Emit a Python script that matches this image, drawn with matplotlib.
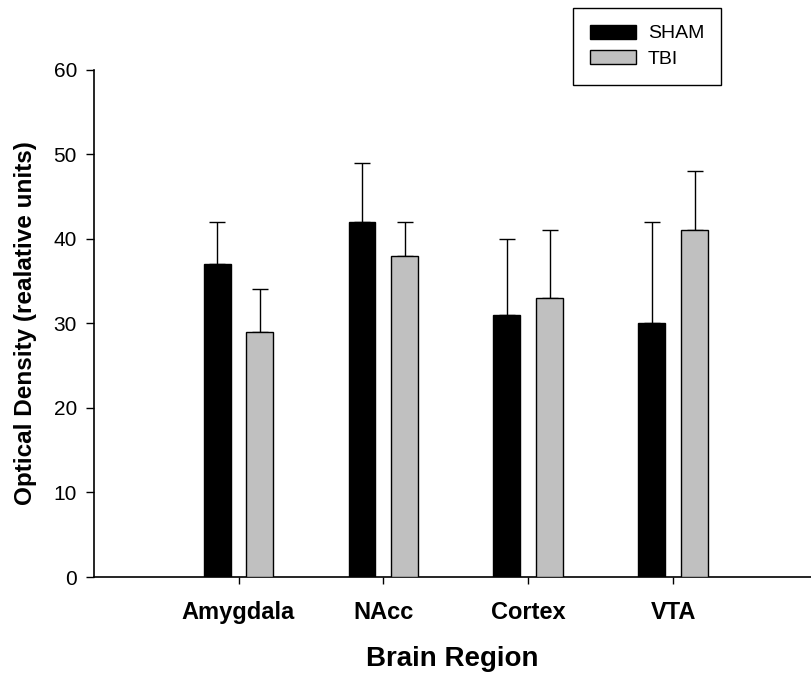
import matplotlib
matplotlib.use("Agg")
import matplotlib.pyplot as plt
import numpy as np
from matplotlib.patches import Patch

plt.rcParams['font.family'] = ['Liberation Sans', 'DejaVu Sans']

regions = ["Amygdala", "NAcc", "Cortex", "VTA"]
sham_mean = [37, 42, 31, 30]
sham_err = [5, 7, 9, 12]
tbi_mean = [29, 38, 33, 41]
tbi_err = [5, 4, 8, 7]
y_ticks = [0, 10, 20, 30, 40, 50, 60]

fig = plt.figure(figsize=(8.11, 6.74), dpi=100)
ax = fig.add_axes([0.1154, 0.1439, 0.8846, 0.7528])

x = np.arange(len(regions))
w = 0.186
off = 0.148
gray = "#c0c0c0"

ax.bar(x - off, sham_mean, width=w, color="black", edgecolor="black", linewidth=1, zorder=3)
ax.bar(x + off, tbi_mean, width=w, color=gray, edgecolor="black", linewidth=1, zorder=3)
ax.errorbar(x - off, sham_mean, yerr=[np.zeros(len(x)), sham_err], fmt="none",
            ecolor="black", elinewidth=1, capsize=5.8, capthick=1, zorder=2)
ax.errorbar(x + off, tbi_mean, yerr=[np.zeros(len(x)), tbi_err], fmt="none",
            ecolor="black", elinewidth=1, capsize=5.8, capthick=1, zorder=2)

ax.set_xlim(-1, 3.95)
ax.set_ylim(0, 60)
ax.set_yticks(y_ticks)
ax.set_xticks(x)
ax.set_xticklabels(regions, fontsize=17, fontweight="bold")
ax.tick_params(axis="y", labelsize=15, length=6, width=1, direction="out", pad=6)
ax.tick_params(axis="x", length=5, width=1, direction="out", pad=12)

for s in ["top", "right"]:
    ax.spines[s].set_visible(False)
for s in ["left", "bottom"]:
    ax.spines[s].set_linewidth(1.2)

ax.set_xlabel("Brain Region", fontsize=20, fontweight="bold", labelpad=16)
ax.set_ylabel("Optical Density (realative units)", fontsize=17.5, fontweight="bold", labelpad=12)

handles = [Patch(facecolor="black", edgecolor="black", label="SHAM"),
           Patch(facecolor=gray, edgecolor="black", label="TBI")]
leg = fig.legend(handles=handles, loc="upper left",
                 bbox_to_anchor=(573 / 811, 1 - 8 / 674), fontsize=14,
                 frameon=True, fancybox=False, edgecolor="black", framealpha=1,
                 handlelength=2.4, handleheight=0.75, handletextpad=0.6,
                 labelspacing=0.4, borderpad=0.85, borderaxespad=0)
leg.get_frame().set_linewidth(1)

fig.savefig("out.png", dpi=100)
